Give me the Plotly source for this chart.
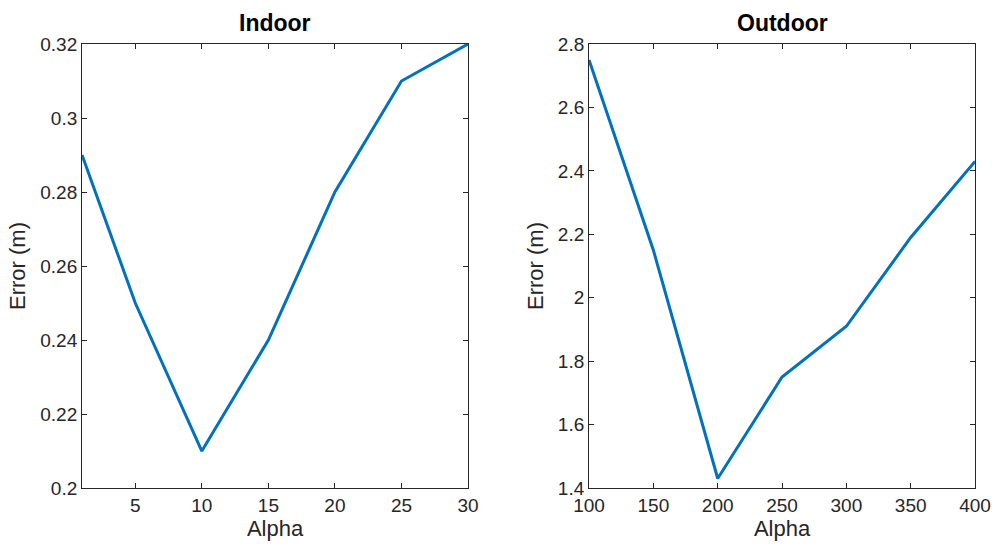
import plotly.graph_objects as go
from plotly.subplots import make_subplots

# Indoor experiment
indoor_alpha = [1, 5, 10, 15, 20, 25, 30]
indoor_error = [0.29, 0.25, 0.21, 0.24, 0.28, 0.31, 0.32]
indoor_xticks = [5, 10, 15, 20, 25, 30]
indoor_yticks = [0.2, 0.22, 0.24, 0.26, 0.28, 0.3, 0.32]

# Outdoor experiment
outdoor_alpha = [100, 150, 200, 250, 300, 350, 400]
outdoor_error = [2.75, 2.15, 1.43, 1.75, 1.91, 2.19, 2.43]
outdoor_xticks = [100, 150, 200, 250, 300, 350, 400]
outdoor_yticks = [1.4, 1.6, 1.8, 2.0, 2.2, 2.4, 2.6, 2.8]

LINE = "#0072BD"
AX = "#262626"
FONT = "Liberation Sans, Arial, Helvetica, sans-serif"

fig = make_subplots(rows=1, cols=2)
fig.add_trace(go.Scatter(x=indoor_alpha, y=indoor_error, mode="lines",
                         line=dict(color=LINE, width=3)), row=1, col=1)
fig.add_trace(go.Scatter(x=outdoor_alpha, y=outdoor_error, mode="lines",
                         line=dict(color=LINE, width=3)), row=1, col=2)

common_axis = dict(showline=True, linecolor=AX, linewidth=1, mirror="ticks",
                   ticks="inside", ticklen=5, tickcolor=AX, showgrid=False,
                   zeroline=False, automargin=False,
                   tickfont=dict(family=FONT, size=19, color=AX),
                   title_font=dict(family=FONT, size=22, color=AX))

fig.update_xaxes(common_axis)
fig.update_yaxes(common_axis)

fig.update_xaxes(domain=[0.0827, 0.4718], range=[1, 30], tickvals=indoor_xticks,
                 title_text="Alpha", title_standoff=3, row=1, col=1)
fig.update_xaxes(domain=[0.5938, 0.9829], range=[100, 400], tickvals=outdoor_xticks,
                 title_text="Alpha", title_standoff=3, row=1, col=2)
fig.update_yaxes(domain=[0.1062, 0.9194], range=[0.2, 0.32], tickvals=indoor_yticks,
                 tickformat="~g", title_text="Error (m)", title_standoff=8, row=1, col=1)
fig.update_yaxes(domain=[0.1062, 0.9194], range=[1.4, 2.8], tickvals=outdoor_yticks,
                 tickformat="~g", title_text="Error (m)", title_standoff=8, row=1, col=2)

for text, xc in [("Indoor", (0.0827 + 0.4718) / 2), ("Outdoor", (0.5938 + 0.9829) / 2)]:
    fig.add_annotation(text="<b>%s</b>" % text, x=xc, y=0.9194, xref="paper", yref="paper",
                       xanchor="center", yanchor="bottom", yshift=6, showarrow=False,
                       font=dict(family=FONT, size=23, color="black"))

fig.update_layout(width=992, height=546, showlegend=False,
                  margin=dict(l=0, r=0, t=0, b=0),
                  paper_bgcolor="white", plot_bgcolor="white")

fig.write_html("out.html")
